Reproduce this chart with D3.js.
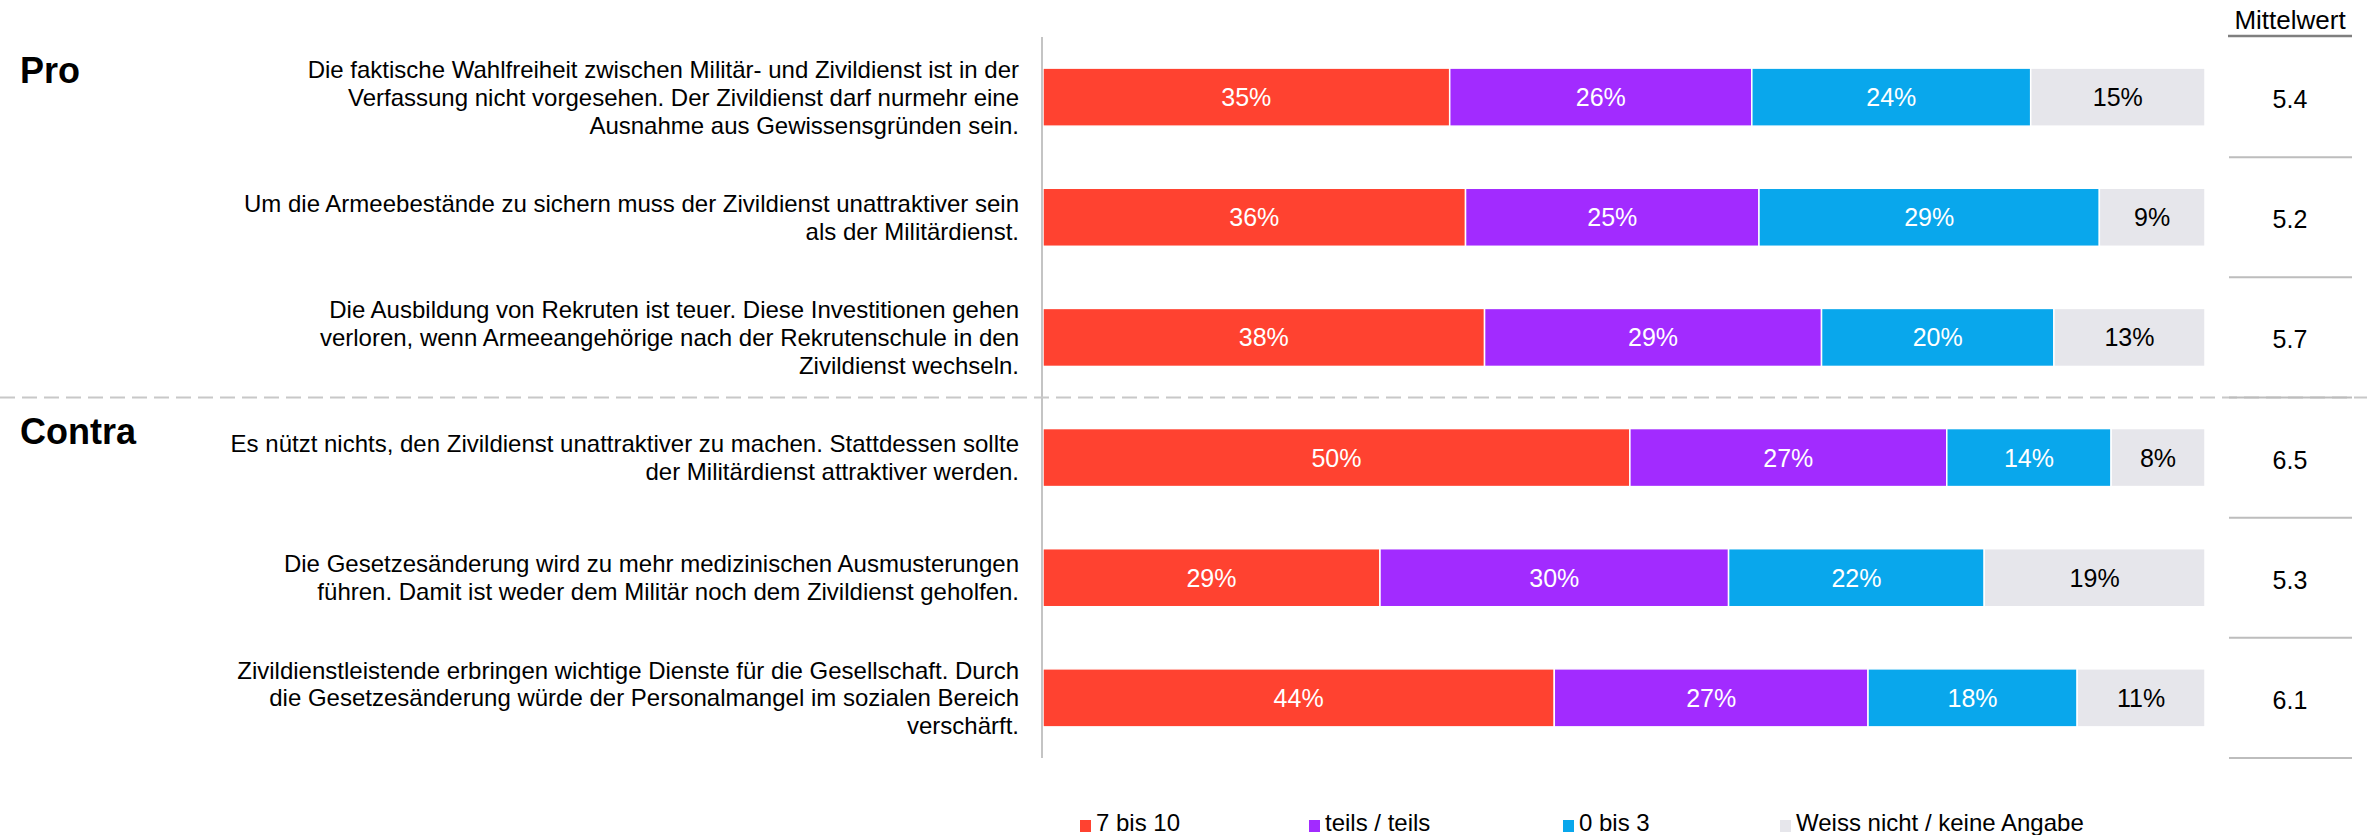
<!DOCTYPE html>
<html>
<head>
<meta charset="utf-8">
<script src="https://cdn.jsdelivr.net/npm/d3@7"></script>
<style>
  body { margin: 0; background: #fff; }
  svg { display: block; font-family: "Liberation Sans", Arial, sans-serif; }
</style>
</head>
<body>
<svg id="chart" width="2379" height="835"></svg>
<script>
// statements (line breaks as in the original)
var statements = [
	['Die faktische Wahlfreiheit zwischen Militär- und Zivildienst ist in der', 'Verfassung nicht vorgesehen. Der Zivildienst darf nurmehr eine', 'Ausnahme aus Gewissensgründen sein.'],
	['Um die Armeebestände zu sichern muss der Zivildienst unattraktiver sein', 'als der Militärdienst.'],
	['Die Ausbildung von Rekruten ist teuer. Diese Investitionen gehen', 'verloren, wenn Armeeangehörige nach der Rekrutenschule in den', 'Zivildienst wechseln.'],
	['Es nützt nichts, den Zivildienst unattraktiver zu machen. Stattdessen sollte', 'der Militärdienst attraktiver werden.'],
	['Die Gesetzesänderung wird zu mehr medizinischen Ausmusterungen', 'führen. Damit ist weder dem Militär noch dem Zivildienst geholfen.'],
	['Zivildienstleistende erbringen wichtige Dienste für die Gesellschaft. Durch', 'die Gesetzesänderung würde der Personalmangel im sozialen Bereich', 'verschärft.']
];
var groups = ['Pro', 'Contra'];
var seriesNames = ['7 bis 10', 'teils / teils', '0 bis 3', 'Weiss nicht / keine Angabe'];
var seriesColors = ['#ff4230', '#a22bff', '#09a7ec', '#e6e6eb'];

var hoch = [35, 36, 38, 50, 29, 44];
var teils = [26, 25, 29, 27, 30, 27];
var tief = [24, 29, 20, 14, 22, 18];
var weissNicht = [15, 9, 13, 8, 19, 11];
var mittelwert = [5.4, 5.2, 5.7, 6.5, 5.3, 6.1];

var svg = d3.select('#chart');
var keys = ['hoch', 'teils', 'tief', 'weissNicht'];
var rows = statements.map(function(s, i) {
	return { i: i, hoch: hoch[i], teils: teils[i], tief: tief[i], weissNicht: weissNicht[i] };
});

var y = d3.scaleBand().domain(d3.range(statements.length)).range([6, 789]).padding(0.517);
var x = d3.scaleLinear().domain([0, 1]).range([1043, 2205]);
var color = d3.scaleOrdinal().domain(keys).range(seriesColors);

var stacked = d3.stack().keys(keys).offset(d3.stackOffsetExpand)(rows);

// bars
var layer = svg.append('g').selectAll('g').data(stacked).join('g')
	.attr('fill', function(d) { return color(d.key); });

layer.selectAll('rect').data(function(d) { return d; }).join('rect')
	.attr('x', function(d) { return x(d[0]); })
	.attr('y', function(d) { return y(d.data.i); })
	.attr('width', function(d) { return x(d[1]) - x(d[0]); })
	.attr('height', y.bandwidth())
	.attr('stroke', '#fff')
	.attr('stroke-width', 1.5);

layer.selectAll('text').data(function(d) { return d.map(function(e) { e.key = d.key; return e; }); }).join('text')
	.attr('x', function(d) { return (x(d[0]) + x(d[1])) / 2; })
	.attr('y', function(d) { return y(d.data.i) + y.bandwidth() / 2; })
	.attr('dy', '0.36em')
	.attr('text-anchor', 'middle')
	.attr('font-size', 25)
	.attr('fill', function(d) { return d.key === 'weissNicht' ? '#000' : '#fff'; })
	.text(function(d) { return d.data[d.key] + '%'; });

// vertical axis line
svg.append('line')
	.attr('x1', 1042).attr('x2', 1042)
	.attr('y1', 37).attr('y2', 758)
	.attr('stroke', '#b0b0b0').attr('stroke-width', 1.5);

// statement labels
var lineH = 28;
var labels = svg.append('g').selectAll('text').data(statements).join('text')
	.attr('text-anchor', 'end')
	.attr('font-size', 24)
	.attr('fill', '#000')
	.attr('transform', function(d, i) {
		var cy = y(i) + y.bandwidth() / 2;
		return 'translate(1019,' + (cy - (d.length - 1) * lineH / 2) + ')';
	});
labels.selectAll('tspan').data(function(d) { return d; }).join('tspan')
	.attr('x', 0)
	.attr('y', function(d, j) { return j * lineH; })
	.attr('dy', '0.36em')
	.text(function(d) { return d; });

// group titles
svg.append('g').selectAll('text').data(groups).join('text')
	.attr('x', 20)
	.attr('y', function(d, i) { return i === 0 ? 83 : 444; })
	.attr('font-size', 36)
	.attr('font-weight', 'bold')
	.text(function(d) { return d; });

// dashed divider between Pro and Contra
var divY = y(2) + y.bandwidth() + (y.step() - y.bandwidth()) / 2;
svg.append('line')
	.attr('x1', 0).attr('x2', 2367)
	.attr('y1', divY).attr('y2', divY)
	.attr('stroke', '#c8c8c8').attr('stroke-width', 2)
	.attr('stroke-dasharray', '15,7');

// Mittelwert column
var mx = 2290;
svg.append('text')
	.attr('x', mx).attr('y', 29)
	.attr('text-anchor', 'middle')
	.attr('font-size', 26)
	.text('Mittelwert');
svg.append('line')
	.attr('x1', 2228).attr('x2', 2352)
	.attr('y1', 36).attr('y2', 36)
	.attr('stroke', '#7f7f7f').attr('stroke-width', 2.5);

svg.append('g').selectAll('line').data(mittelwert).join('line')
	.attr('x1', 2229).attr('x2', 2352)
	.attr('y1', function(d, i) { return y(i) + y.bandwidth() + (y.step() - y.bandwidth()) / 2; })
	.attr('y2', function(d, i) { return y(i) + y.bandwidth() + (y.step() - y.bandwidth()) / 2; })
	.attr('stroke', '#bdbdbd').attr('stroke-width', 2);

svg.append('g').selectAll('text').data(mittelwert).join('text')
	.attr('x', mx)
	.attr('y', function(d, i) { return y(i) + y.bandwidth() / 2 + 2; })
	.attr('dy', '0.36em')
	.attr('text-anchor', 'middle')
	.attr('font-size', 25)
	.text(function(d) { return d3.format('.1f')(d); });

// legend
var legendX = [1080, 1309, 1563, 1780];
var legend = svg.append('g').selectAll('g').data(seriesNames).join('g')
	.attr('transform', function(d, i) { return 'translate(' + legendX[i] + ',0)'; });
legend.append('rect')
	.attr('x', 0).attr('y', 820)
	.attr('width', 11).attr('height', 12)
	.attr('fill', function(d, i) { return seriesColors[i]; });
legend.append('text')
	.attr('x', 16).attr('y', 831)
	.attr('font-size', 24)
	.text(function(d) { return d; });
</script>
</body>
</html>
